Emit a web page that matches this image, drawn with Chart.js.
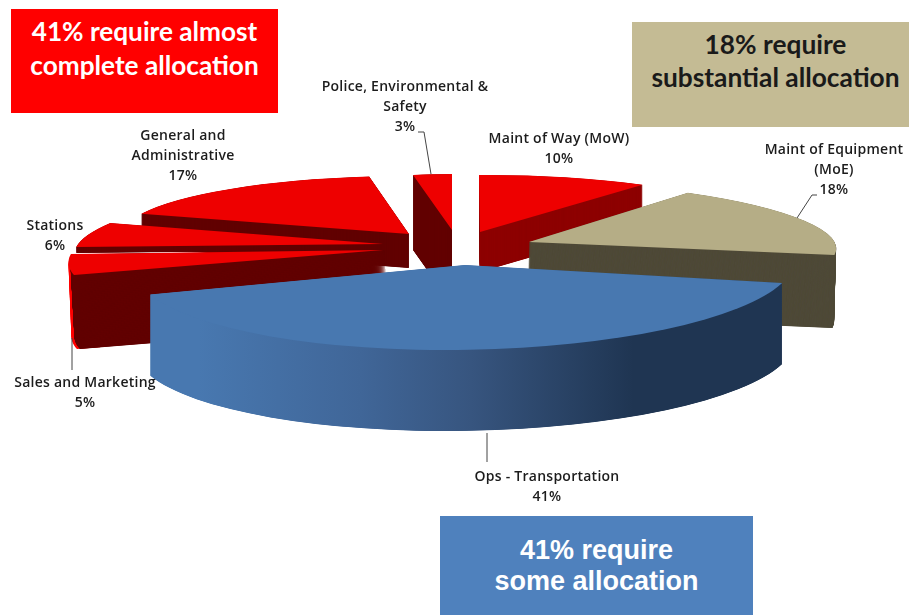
<!DOCTYPE html>
<html>
<head>
<meta charset="utf-8">
<style>
  html, body { margin: 0; padding: 0; background: #fff; }
  #wrap { position: relative; width: 909px; height: 615px; overflow: hidden; }
  canvas { position: absolute; left: 0; top: 0; }
  .callout { position: absolute; text-align: center; box-sizing: border-box; }
  #box-red { left: 11px; top: 9px; width: 267px; height: 104px; background: #ff0000; color: #fff;
    font: 700 26.2px/34px Lato, sans-serif; padding-top: 5px; }
  #box-tan { left: 632px; top: 22px; width: 277px; height: 105px; background: #c4bb94; color: #1a1a1a;
    font: 700 26.3px/33px Lato, sans-serif; padding-top: 6px; padding-left: 10px; }
  #box-blue { left: 440px; top: 516px; width: 313px; height: 99px; background: #4f81bd; color: #fff;
    font: 700 27px/31px "Liberation Sans", sans-serif; padding-top: 19px; }
</style>
</head>
<body>
<div id="wrap">
  <canvas id="pie" width="909" height="615"></canvas>
  <div class="callout" id="box-red">41% require almost<br>complete allocation</div>
  <div class="callout" id="box-tan">18% require<br>substantial allocation</div>
  <div class="callout" id="box-blue">41% require<br>some allocation</div>
</div>
<script src="https://cdn.jsdelivr.net/npm/chart.js@4"></script>
<script>
const categories = [
  ["Maint of Way (MoW)"],
  ["Maint of Equipment", "(MoE)"],
  ["Ops - Transportation"],
  ["Sales and Marketing"],
  ["Stations"],
  ["General and", "Administrative"],
  ["Police, Environmental &", "Safety"]
];
const shares = [10, 18, 41, 5, 6, 17, 3];

const RED = "#ee0000", DARK_RED = "#620000";

// where each exploded slice lands: apex, the two axes of its tilted plane, wall height
const slices = [
  { ax: 480, ay: 232, u: [278, -2], w: [-1, -57], depth: 40, top: RED, wall: "#8e0000" },
  { ax: 529, ay: 242, u: [306, 1.5], w: [-26, -62], depth: 73, drift: -2, top: "#b5ad86", wall: "#4f4a38" },
  { ax: 465, ay: 265, u: [328, 2], w: [27, -85], depth: 81, top: "#4878b0", wall: "gradient" },
  { ax: 383, ay: 250, u: [309, 0.3], w: [59, -69], depth: 74, drift: 3, rim: "#ff0000", top: RED, wall: DARK_RED },
  { ax: 383, ay: 244, u: [304, 1], w: [53, -65], depth: 6, top: RED, wall: DARK_RED },
  { ax: 409, ay: 234, u: [286, 2.4], w: [14, -58], depth: 34, top: RED, wall: DARK_RED },
  { ax: 452, ay: 230, u: [208, 0], w: [0, -56], depth: 75, top: RED, wall: DARK_RED }
];
const drawOrder = [0, 6, 5, 4, 3, 1, 2];
const WALL_STEP = 0.25; // fine steps so the thin wedge tips don't leave gaps

const labelAnchors = [
  { x: 559, y: 139 }, { x: 834, y: 150 }, { x: 547, y: 477 },
  { x: 85, y: 383 }, { x: 55, y: 226 }, { x: 183, y: 136 }, { x: 405, y: 87 }
];
const leaders = [
  [[418, 132], [424, 132], [431, 174]],
  [[817, 195], [812, 195], [797, 218]],
  [[72, 338], [72, 370]],
  [[487, 433], [487, 462]]
];

function paintSlice(ctx, el, s, offsetX, offsetY, color) {
  const R = el.outerRadius;
  const saved = el.options;
  el.options = Object.assign({}, saved, { backgroundColor: color });
  ctx.save();
  ctx.translate(s.ax + offsetX, s.ay + offsetY);
  ctx.transform(s.u[0] / R, s.u[1] / R, -s.w[0] / R, -s.w[1] / R, 0, 0);
  ctx.translate(-el.x, -el.y);
  el.draw(ctx);
  ctx.restore();
  el.options = saved;
}

const pie3d = {
  id: "pie3d",
  beforeDatasetsDraw(chart) {
    const ctx = chart.ctx;
    const arcs = chart.getDatasetMeta(0).data;
    drawOrder.forEach(i => {
      const el = arcs[i], s = slices[i], R = el.outerRadius;
      let wall = s.wall;
      if (wall === "gradient") {
        wall = ctx.createLinearGradient(el.x - R, 0, el.x + R, 0);
        wall.addColorStop(0, "#4878b0");
        wall.addColorStop(0.12, "#4878b0");
        wall.addColorStop(0.38, "#406698");
        wall.addColorStop(0.55, "#37557f");
        wall.addColorStop(0.79, "#1f3552");
        wall.addColorStop(1, "#1f3552");
      }
      const drift = s.drift || 0;
      if (s.rim) {
        // bright outer edge only shows at the far left of the slice
        ctx.save();
        ctx.beginPath();
        ctx.rect(0, 0, 100, chart.height);
        ctx.clip();
        for (let d = s.depth; d > 0; d--) paintSlice(ctx, el, s, drift * d / s.depth, d, s.rim);
        ctx.restore();
      }
      for (let d = s.depth; d > 0; d -= WALL_STEP) {
        const dx = drift * d / s.depth + (s.rim ? 2 + d / s.depth : 0);
        paintSlice(ctx, el, s, dx, d, wall);
      }
      paintSlice(ctx, el, s, 0, 0, s.top);
    });
    return false;
  },
  afterDraw(chart) {
    const ctx = chart.ctx;
    ctx.save();
    ctx.strokeStyle = "#444";
    ctx.lineWidth = 1;
    leaders.forEach(pts => {
      ctx.beginPath();
      pts.forEach((p, i) => i ? ctx.lineTo(p[0], p[1]) : ctx.moveTo(p[0], p[1]));
      ctx.stroke();
    });
    ctx.fillStyle = "#1c1c1c";
    ctx.font = "600 14px 'Open Sans', sans-serif";
    ctx.letterSpacing = "0.25px";
    ctx.textAlign = "center";
    ctx.textBaseline = "middle";
    categories.forEach((lines, i) => {
      const a = labelAnchors[i];
      lines.concat(shares[i] + "%").forEach((t, n) => ctx.fillText(t, a.x, a.y + n * 20));
    });
    ctx.restore();
  }
};

new Chart(document.getElementById("pie"), {
  type: "pie",
  data: {
    labels: categories,
    datasets: [{ data: shares, backgroundColor: slices.map(s => s.top), borderWidth: 0 }]
  },
  options: {
    responsive: false,
    animation: false,
    plugins: { legend: { display: false }, tooltip: { enabled: false } }
  },
  plugins: [pie3d]
});
</script>
</body>
</html>
